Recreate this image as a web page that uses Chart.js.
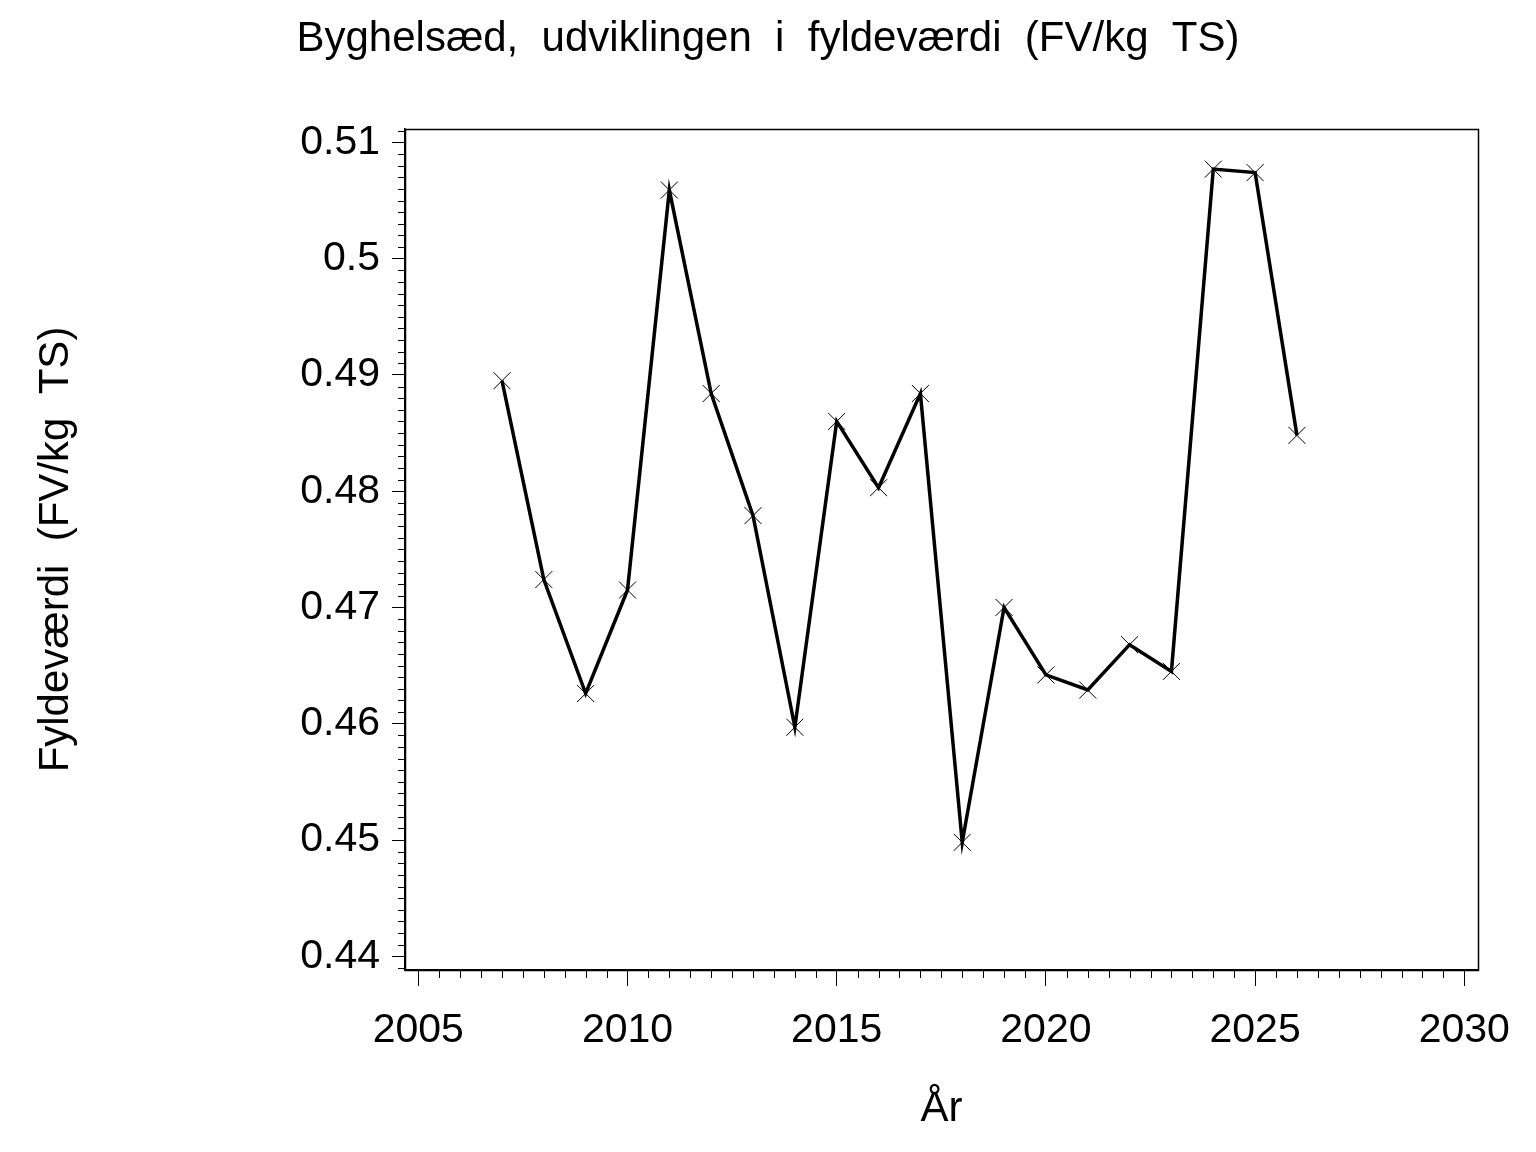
<!DOCTYPE html>
<html>
<head>
<meta charset="utf-8">
<script src="https://cdn.jsdelivr.net/npm/chart.js@4.4.1/dist/chart.umd.min.js"></script>
<style>
html,body{margin:0;padding:0;background:#fff;}
#wrap{width:1536px;height:1152px;}
</style>
</head>
<body>
<div id="wrap"><canvas id="c" width="1536" height="1152"></canvas></div>
<script>
const years = [2007,2008,2009,2010,2011,2012,2013,2014,2015,2016,2017,2018,2019,2020,2021,2022,2023,2024,2025,2026];
const fyldevaerdi = [0.4895,0.4724,0.4626,0.4715,0.5059,0.4884,0.4779,0.4597,0.4860,0.4803,0.4884,0.4498,0.4700,0.4642,0.4629,0.4668,0.4645,0.5077,0.5074,0.4848];
const xMajorStep = 5;
const xMinorStep = 0.5;
const yMajorStep = 0.01;
const yMinorStep = 0.001;
const titleText = 'Byghelsæd,  udviklingen  i  fyldeværdi  (FV/kg  TS)';
const xTitleText = 'År';
const yTitleText = 'Fyldeværdi  (FV/kg  TS)';

const FONT = "'Liberation Sans', Arial, sans-serif";

const framePlugin = {
  id: 'frame',
  afterDraw(chart) {
    const ctx = chart.ctx;
    const a = chart.chartArea;
    const xs = chart.scales.x, ys = chart.scales.y;
    ctx.save();
    ctx.strokeStyle = '#000';
    ctx.lineWidth = 1.5;
    ctx.strokeRect(Math.round(a.left)+0.5, Math.round(a.top)+0.5, Math.round(a.right-a.left), Math.round(a.bottom-a.top));
    ctx.lineWidth = 1;
    const x0 = Math.ceil(xs.min / xMinorStep) * xMinorStep;
    for (let v = x0; v <= xs.max + 1e-9; v += xMinorStep) {
      const r = Math.round(v / xMinorStep);
      if (r % Math.round(xMajorStep / xMinorStep) === 0) continue;
      const px = Math.round(xs.getPixelForValue(v)) + 0.5;
      ctx.beginPath();
      ctx.moveTo(px, a.bottom);
      ctx.lineTo(px, a.bottom + 8);
      ctx.stroke();
    }
    const y0 = Math.ceil(ys.min / yMinorStep - 1e-6);
    const y1 = Math.floor(ys.max / yMinorStep + 1e-6);
    for (let k = y0; k <= y1; k++) {
      if (k % Math.round(yMajorStep / yMinorStep) === 0) continue;
      const py = Math.round(ys.getPixelForValue(k * yMinorStep)) + 0.5;
      ctx.beginPath();
      ctx.moveTo(a.left, py);
      ctx.lineTo(a.left - 7, py);
      ctx.stroke();
    }
    ctx.restore();
  }
};

new Chart(document.getElementById('c'), {
  type: 'line',
  data: {
    datasets: [{
      data: years.map((y, i) => ({x: y, y: fyldevaerdi[i]})),
      borderColor: '#000',
      borderWidth: 3.5,
      pointStyle: 'crossRot',
      pointRadius: 12,
      pointBorderWidth: 1,
      pointBorderColor: '#000',
      pointBackgroundColor: '#000',
      tension: 0,
      fill: false
    }]
  },
  options: {
    responsive: false,
    animation: false,
    devicePixelRatio: 1,
    layout: { padding: { left: 0, right: 0, top: 0, bottom: 0 } },
    plugins: {
      legend: { display: false },
      tooltip: { enabled: false },
      title: {
        display: true,
        text: titleText,
        color: '#000',
        font: { family: FONT, size: 42, weight: 'normal', lineHeight: 1.2 },
        padding: { top: 14, bottom: 64.6 }
      }
    },
    scales: {
      x: {
        type: 'linear',
        min: 2004.682,
        max: 2030.327,
        afterFit(scale) { scale.height = 1152 - 970; },
        border: { display: true, color: '#000', width: 1.5 },
        grid: { display: true, drawOnChartArea: false, drawTicks: true, tickLength: 16, color: '#000', lineWidth: 1 },
        ticks: {
          stepSize: xMajorStep,
          includeBounds: false,
          color: '#000',
          padding: 20,
          maxRotation: 0,
          font: { family: FONT, size: 41 },
          callback: (v) => String(v)
        },
        title: {
          display: true,
          text: xTitleText,
          color: '#000',
          font: { family: FONT, size: 42 },
          padding: { top: 0, bottom: 17 }
        }
      },
      y: {
        type: 'linear',
        min: 0.43882,
        max: 0.51115,
        afterFit(scale) { scale.width = 405; },
        border: { display: true, color: '#000', width: 1.5 },
        grid: { display: true, drawOnChartArea: false, drawTicks: true, tickLength: 13, color: '#000', lineWidth: 1 },
        ticks: {
          stepSize: yMajorStep,
          includeBounds: false,
          color: '#000',
          padding: 12,
          font: { family: FONT, size: 41 },
          callback: (v) => String(Math.round(v * 1000) / 1000)
        },
        title: {
          display: true,
          text: yTitleText,
          color: '#000',
          font: { family: FONT, size: 42 },
          padding: { top: 31, bottom: 0 }
        }
      },
      yRight: {
        type: 'linear',
        position: 'right',
        display: true,
        min: 0.43882,
        max: 0.51115,
        afterFit(scale) { scale.width = 1536 - 1478; },
        border: { display: false },
        grid: { display: false },
        ticks: { display: false }
      }
    }
  },
  plugins: [framePlugin]
});
</script>
</body>
</html>
